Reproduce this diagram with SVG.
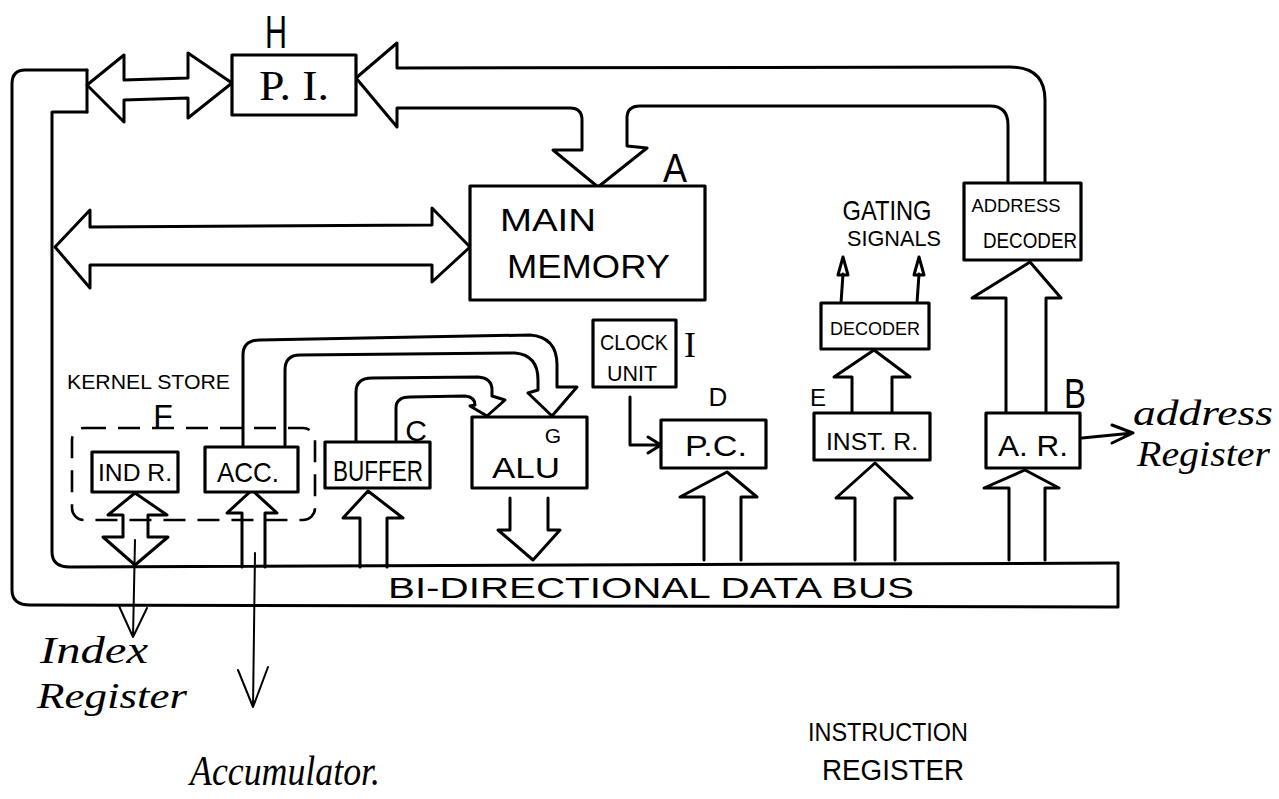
<svg xmlns="http://www.w3.org/2000/svg" width="1279" height="799" viewBox="0 0 1279 799">
<style>
.ln{fill:none;stroke:#000;stroke-width:3;stroke-linecap:round;stroke-linejoin:round}
.thin{fill:none;stroke:#000;stroke-width:2;stroke-linecap:round;stroke-linejoin:round}
.box{fill:#fff;stroke:#000;stroke-width:3.2;stroke-linejoin:round}
.dash{fill:none;stroke:#000;stroke-width:2.6;stroke-dasharray:22 12}
.t{font-family:"Liberation Sans",Arial,sans-serif;fill:#000}
.s{font-family:"Liberation Serif","Times New Roman",serif;fill:#000}
.c{font-family:"Liberation Serif","Times New Roman",serif;font-style:italic;fill:#000}
</style>
<rect width="1279" height="799" fill="#fff"/>
<g id="connectors">
  <path class="ln" d="M87 70 L25 70 Q12 70 12 84 L12 590 Q12 605 30 605 L1118 607 L1118 563"/>
  <path class="ln" d="M87 112 L52 112 L52 552 Q52 567 70 567 L1118 563"/>
  <path class="ln" d="M87 70 L87 112"/>
  <path class="ln" d="M87 85 L124 55 L124 80 L188 78 L188 53 L232 83 L188 118 L188 98 L124 100 L124 122 Z"/>
  <path class="ln" d="M356 78 L397 43 L397 68 L1010 67 Q1045 67 1045 100 L1045 183"/>
  <path class="ln" d="M356 78 L397 127 L397 108 L570 108 Q582 108 582 120 L582 150 L553 150 L598 187 L647 148 L627 146 L627 118 Q627 106 640 106 L990 106 Q1008 106 1008 125 L1008 183"/>
  <path class="ln" d="M55 247 L90 210 L90 227 L432 225 L432 208 L470 247 L432 282 L432 265 L90 265 L90 288 Z"/>
  <path class="ln" d="M135 493 L167 515 L148 515 L148 537 L168 537 L135 565 L103 537 L123 537 L123 515 L108 515 Z"/>
  <path class="thin" d="M135 540 L133 637 M119 606 L133 637 L147 608"/>
  <path class="ln" d="M242 567 L242 513 L227 513 L252 490 L277 513 L265 513 L265 567"/>
  <path class="thin" d="M255 553 L253 707 M238 670 L253 707 L268 667"/>
  <path class="ln" d="M360 567 L360 518 L343 518 L368 491 L403 518 L387 518 L387 567"/>
  <path class="ln" d="M243 447 L243 355 Q243 340 260 340 L530 335 Q557 337 557 365 L557 387 L577 387 L552 416"/>
  <path class="ln" d="M285 445 L285 370 Q285 355 300 355 L515 353 Q538 355 538 380 L538 390 L528 393 L552 416"/>
  <path class="ln" d="M508 418 L527 433 L545 420"/>
  <path class="ln" d="M356 442 L356 392 Q356 378 372 378 L478 377 Q492 378 492 390 L492 396 L505 400 L487 416"/>
  <path class="ln" d="M396 440 L396 408 Q396 397 410 397 L465 396 Q475 397 475 405 L470 406 L487 416"/>
  <path class="ln" d="M510 498 L510 530 L498 530 L533 560 L560 530 L548 530 L548 498"/>
  <path class="ln" d="M630 397 L630 445 L660 445 M648 437 L661 445 L648 453"/>
  <path class="ln" d="M704 560 L704 497 L680 497 L727 472 L757 497 L741 497 L741 560"/>
  <path class="ln" d="M855 560 L855 498 L836 498 L875 463 L912 498 L895 498 L895 560"/>
  <path class="ln" d="M852 413 L852 377 L834 377 L874 350 L910 377 L892 377 L892 413"/>
  <path class="ln" d="M841 303 L843 274 M917 303 L919 274"/>
  <path class="ln" d="M843 257 L838 275 L848 275 Z M919 257 L914 275 L924 275 Z"/>
  <path class="ln" d="M1009 560 L1009 488 L984 488 L1025 470 L1059 488 L1045 488 L1045 560"/>
  <path class="ln" d="M1006 413 L1006 298 L972 298 L1030 262 L1061 298 L1046 298 L1046 413"/>
  <path class="ln" d="M1082 438 L1133 433 M1112 425 L1133 433 L1112 443"/>
</g>
<g id="bus-label">
  <text class="t" x="388" y="598" font-size="30" textLength="526" lengthAdjust="spacingAndGlyphs">BI-DIRECTIONAL DATA BUS</text>
</g>
<g id="node-pi">
  <rect class="box" x="232" y="55" width="124" height="60"/>
  <text class="s" x="294" y="100" font-size="42" text-anchor="middle" textLength="70" lengthAdjust="spacingAndGlyphs">P. I.</text>
  <text class="t" x="276" y="48" font-size="46" text-anchor="middle" textLength="22" lengthAdjust="spacingAndGlyphs">H</text>
</g>
<g id="node-memory">
  <rect class="box" x="470" y="186" width="235" height="114"/>
  <text class="t" x="500" y="231" font-size="32" textLength="96" lengthAdjust="spacingAndGlyphs">MAIN</text>
  <text class="t" x="507" y="278" font-size="34" textLength="163" lengthAdjust="spacingAndGlyphs">MEMORY</text>
  <text class="t" x="675" y="182" font-size="40" text-anchor="middle" textLength="24" lengthAdjust="spacingAndGlyphs">A</text>
</g>
<g id="node-clock">
  <rect class="box" x="593" y="320" width="83" height="67"/>
  <text class="t" x="634" y="350" font-size="22" text-anchor="middle" textLength="68" lengthAdjust="spacingAndGlyphs">CLOCK</text>
  <text class="t" x="632" y="381" font-size="22" text-anchor="middle" textLength="50" lengthAdjust="spacingAndGlyphs">UNIT</text>
  <text class="s" x="690" y="357" font-size="36" text-anchor="middle">I</text>
</g>
<g id="node-kernel">
  <rect class="dash" x="72" y="428" width="243" height="92" rx="12"/>
  <text class="t" x="67" y="389" font-size="21" textLength="163" lengthAdjust="spacingAndGlyphs">KERNEL STORE</text>
  <text class="t" x="163" y="427" font-size="32" text-anchor="middle">F</text>
</g>
<g id="node-indr">
  <rect class="box" x="92" y="452" width="86" height="40"/>
  <text class="t" x="135" y="481" font-size="24" text-anchor="middle" textLength="74" lengthAdjust="spacingAndGlyphs">IND R.</text>
</g>
<g id="node-acc">
  <rect class="box" x="205" y="447" width="93" height="45"/>
  <text class="t" x="248" y="482" font-size="28" text-anchor="middle" textLength="62" lengthAdjust="spacingAndGlyphs">ACC.</text>
</g>
<g id="node-buffer">
  <rect class="box" x="325" y="442" width="105" height="46"/>
  <text class="t" x="378" y="481" font-size="30" text-anchor="middle" textLength="90" lengthAdjust="spacingAndGlyphs">BUFFER</text>
  <text class="t" x="416" y="441" font-size="30" text-anchor="middle">C</text>
</g>
<g id="node-alu">
  <rect class="box" x="472" y="417" width="115" height="71"/>
  <text class="t" x="526" y="478" font-size="30" text-anchor="middle" textLength="68" lengthAdjust="spacingAndGlyphs">ALU</text>
  <text class="t" x="553" y="443" font-size="21" text-anchor="middle">G</text>
</g>
<g id="node-pc">
  <rect class="box" x="661" y="420" width="105" height="48"/>
  <text class="t" x="716" y="456" font-size="30" text-anchor="middle" textLength="62" lengthAdjust="spacingAndGlyphs">P.C.</text>
  <text class="t" x="718" y="406" font-size="26" text-anchor="middle">D</text>
</g>
<g id="node-instr">
  <rect class="box" x="814" y="413" width="116" height="47"/>
  <text class="t" x="872" y="450" font-size="24" text-anchor="middle" textLength="92" lengthAdjust="spacingAndGlyphs">INST. R.</text>
  <text class="t" x="818" y="406" font-size="24" text-anchor="middle">E</text>
</g>
<g id="node-decoder">
  <rect class="box" x="821" y="303" width="108" height="46"/>
  <text class="t" x="875" y="335" font-size="18" text-anchor="middle" textLength="90" lengthAdjust="spacingAndGlyphs">DECODER</text>
</g>
<g id="label-gating">
  <text class="t" x="887" y="220" font-size="28" text-anchor="middle" textLength="89" lengthAdjust="spacingAndGlyphs">GATING</text>
  <text class="t" x="894" y="246" font-size="22" text-anchor="middle" textLength="94" lengthAdjust="spacingAndGlyphs">SIGNALS</text>
</g>
<g id="node-addrdecoder">
  <rect class="box" x="964" y="183" width="117" height="77"/>
  <text class="t" x="1016" y="212" font-size="19" text-anchor="middle" textLength="89" lengthAdjust="spacingAndGlyphs">ADDRESS</text>
  <text class="t" x="1030" y="248" font-size="22" text-anchor="middle" textLength="94" lengthAdjust="spacingAndGlyphs">DECODER</text>
</g>
<g id="node-ar">
  <rect class="box" x="986" y="413" width="94" height="55"/>
  <text class="t" x="1033" y="456" font-size="30" text-anchor="middle" textLength="70" lengthAdjust="spacingAndGlyphs">A. R.</text>
  <text class="t" x="1075" y="408" font-size="42" text-anchor="middle" textLength="22" lengthAdjust="spacingAndGlyphs">B</text>
</g>
<g id="labels">
  <text class="c" x="1133" y="425" font-size="36" textLength="140" lengthAdjust="spacingAndGlyphs">address</text>
  <text class="c" x="1137" y="466" font-size="36" textLength="133" lengthAdjust="spacingAndGlyphs">Register</text>
  <text class="c" x="40" y="663" font-size="38" textLength="108" lengthAdjust="spacingAndGlyphs">Index</text>
  <text class="c" x="37" y="708" font-size="36" textLength="150" lengthAdjust="spacingAndGlyphs">Register</text>
  <text class="c" x="190" y="785" font-size="42" textLength="190" lengthAdjust="spacingAndGlyphs">Accumulator.</text>
  <text class="t" x="808" y="741" font-size="25" textLength="160" lengthAdjust="spacingAndGlyphs">INSTRUCTION</text>
  <text class="t" x="822" y="780" font-size="29" textLength="142" lengthAdjust="spacingAndGlyphs">REGISTER</text>
</g>
</svg>
